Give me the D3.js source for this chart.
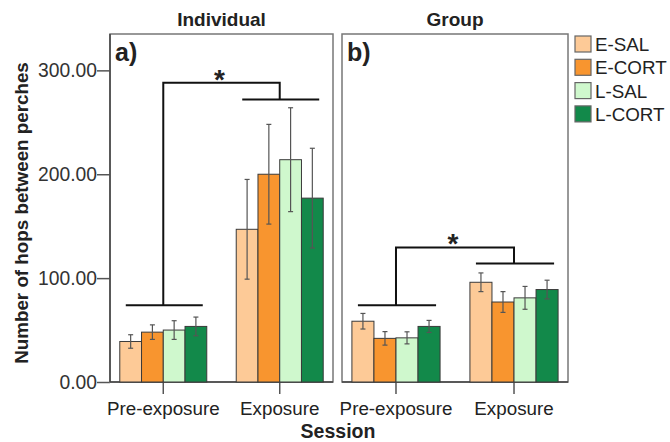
<!DOCTYPE html>
<html>
<head>
<meta charset="utf-8">
<script src="https://cdn.jsdelivr.net/npm/d3@7"></script>
<style>
  body { margin: 0; background: #fff; }
  svg text { font-family: "Liberation Sans", Arial, sans-serif; fill: #222; }
  .panelTitle, .axisTitle, .tag { font-weight: bold; }
</style>
</head>
<body>
<div id="chart"></div>
<script>
const width = 670;
const height = 442;

const sessions = ["Pre-exposure", "Exposure"];
const groups = ["E-SAL", "E-CORT", "L-SAL", "L-CORT"];
const colors = ["#fdca97", "#f8952f", "#cff8cd", "#12894a"];
const yTicks = [0, 100, 200, 300];

// means [session][group] and standard errors
const indivMeans = [[39, 48, 50, 53.5], [147, 200, 214, 177]];
const indivErr   = [[6.5, 7, 9, 9], [48, 48, 50, 48]];
const groupMeans = [[58.5, 42, 42.5, 53.5], [96, 77, 81, 89]];
const groupErr   = [[7.5, 6.5, 5.8, 5.8], [9, 10, 11, 9]];

// significance brackets: pre bar level, exposure bar level, top level
const indivBracket = [74, 272, 288];
const groupBracket = [74, 114, 129.5];

const panels = [
   {title: "Individual", tag: "a)", x0: 110, x1: 333, means: indivMeans, err: indivErr, br: indivBracket},
   {title: "Group",      tag: "b)", x0: 342, x1: 568, means: groupMeans, err: groupErr, br: groupBracket}
];

const svg = d3.select("#chart").append("svg")
   .attr("width", width)
   .attr("height", height);

const plotTop = 34, plotBottom = 382;

const y = d3.scaleLinear()
   .domain([0, 335])
   .range([plotBottom, plotTop]);

// y axis on the left panel
const yAxis = d3.axisLeft(y)
   .tickValues(yTicks)
   .tickSize(13)
   .tickFormat(d3.format(".2f"));

const gy = svg.append("g")
   .attr("transform", `translate(110,0)`)
   .call(yAxis);
gy.select(".domain").remove();
gy.selectAll(".tick line").attr("stroke", "#555").attr("stroke-width", 1.5);
gy.selectAll(".tick text")
   .attr("x", -13)
   .style("font-size", "19.3px")
   .style("fill", "#333")
   .attr("font-family", null);

svg.append("text")
   .attr("class", "axisTitle")
   .attr("transform", `translate(28,${(plotTop + plotBottom) / 2 + 5}) rotate(-90)`)
   .attr("text-anchor", "middle")
   .style("font-size", "18.8px")
   .text("Number of hops between perches");

svg.append("text")
   .attr("class", "axisTitle")
   .attr("x", 338)
   .attr("y", 438)
   .attr("text-anchor", "middle")
   .style("font-size", "19.5px")
   .text("Session");

panels.forEach(p => {
   const g = svg.append("g");

   const x = d3.scaleBand()
      .domain(sessions)
      .range([p.x0, p.x1])
      .paddingInner(0.253)
      .paddingOuter(0.084);

   const xg = d3.scaleBand()
      .domain(groups)
      .range([0, x.bandwidth()]);

   // frame
   g.append("rect")
      .attr("x", p.x0)
      .attr("y", plotTop)
      .attr("width", p.x1 - p.x0)
      .attr("height", plotBottom - plotTop)
      .attr("fill", "none")
      .attr("stroke", "#777")
      .attr("stroke-width", 1.5);

   g.append("line")
      .attr("x1", p.x0).attr("x2", p.x1)
      .attr("y1", plotBottom).attr("y2", plotBottom)
      .attr("stroke", "#444").attr("stroke-width", 1.5);
   if (p.tag === "a)") {
      g.append("line")
         .attr("x1", p.x0).attr("x2", p.x0)
         .attr("y1", plotTop).attr("y2", plotBottom)
         .attr("stroke", "#444").attr("stroke-width", 1.5);
   }

   // x axis
   const xAxis = d3.axisBottom(x).tickSize(12).tickPadding(8);
   const gx = g.append("g")
      .attr("transform", `translate(0,${plotBottom})`)
      .call(xAxis);
   gx.select(".domain").remove();
   gx.selectAll(".tick line").attr("stroke", "#555").attr("stroke-width", 1.5);
   gx.selectAll(".tick text")
      .style("font-size", "18.8px")
      .style("fill", "#222")
      .attr("font-family", null);

   svg.append("text")
      .attr("class", "panelTitle")
      .attr("x", (p.x0 + p.x1) / 2)
      .attr("y", 26)
      .attr("text-anchor", "middle")
      .style("font-size", "19px")
      .text(p.title);

   svg.append("text")
      .attr("class", "tag")
      .attr("x", p.x0 + 5)
      .attr("y", 61)
      .style("font-size", "25px")
      .text(p.tag);

   const data = [];
   sessions.forEach((s, i) => {
      groups.forEach((gr, j) => {
         data.push({session: s, group: gr, value: p.means[i][j], err: p.err[i][j], color: colors[j]});
      });
   });

   g.selectAll("rect.bar")
      .data(data)
      .enter()
      .append("rect")
      .attr("class", "bar")
      .attr("x", d => x(d.session) + xg(d.group))
      .attr("y", d => y(d.value))
      .attr("width", xg.bandwidth())
      .attr("height", d => y(0) - y(d.value))
      .attr("fill", d => d.color)
      .attr("stroke", "#3a3a3a")
      .attr("stroke-width", 1);

   // error bars
   const eb = g.selectAll("g.err")
      .data(data)
      .enter()
      .append("g")
      .attr("class", "err")
      .attr("stroke", "#555")
      .attr("stroke-width", 1.2);
   const cx = d => x(d.session) + xg(d.group) + xg.bandwidth() / 2;
   eb.append("line")
      .attr("x1", cx).attr("x2", cx)
      .attr("y1", d => y(d.value + d.err))
      .attr("y2", d => y(d.value - d.err));
   eb.append("line")
      .attr("x1", d => cx(d) - 2.5).attr("x2", d => cx(d) + 2.5)
      .attr("y1", d => y(d.value + d.err)).attr("y2", d => y(d.value + d.err));
   eb.append("line")
      .attr("x1", d => cx(d) - 2.5).attr("x2", d => cx(d) + 2.5)
      .attr("y1", d => y(d.value - d.err)).attr("y2", d => y(d.value - d.err));

   // significance bracket
   const pre = sessions[0], exp = sessions[1];
   const preC = x(pre) + x.bandwidth() / 2;
   const expC = x(exp) + x.bandwidth() / 2;
   const bg = g.append("g")
      .attr("stroke", "#111")
      .attr("stroke-width", 2)
      .attr("fill", "none");
   bg.append("line")
      .attr("x1", x(pre) + 6).attr("x2", x(pre) + x.bandwidth() - 4)
      .attr("y1", y(p.br[0])).attr("y2", y(p.br[0]));
   bg.append("line")
      .attr("x1", x(exp) + 6).attr("x2", x(exp) + x.bandwidth() - 4)
      .attr("y1", y(p.br[1])).attr("y2", y(p.br[1]));
   bg.append("path")
      .attr("d", `M${preC},${y(p.br[0])}V${y(p.br[2])}H${expC}V${y(p.br[1])}`);

   svg.append("text")
      .attr("x", (preC + expC) / 2 - 2)
      .attr("y", y(p.br[2]) + 6)
      .attr("text-anchor", "middle")
      .style("font-size", "28px")
      .style("font-weight", "bold")
      .text("*");
});

// legend
const legend = svg.append("g")
   .attr("transform", "translate(575,36)");
const li = legend.selectAll("g")
   .data(groups)
   .enter()
   .append("g")
   .attr("transform", (d, i) => `translate(0,${i * 23.3})`);
li.append("rect")
   .attr("width", 16)
   .attr("height", 16)
   .attr("fill", (d, i) => colors[i])
   .attr("stroke", "#666")
   .attr("stroke-width", 1.2);
li.append("text")
   .attr("x", 20)
   .attr("y", 15)
   .style("font-size", "18.8px")
   .text(d => d);
</script>
</body>
</html>
